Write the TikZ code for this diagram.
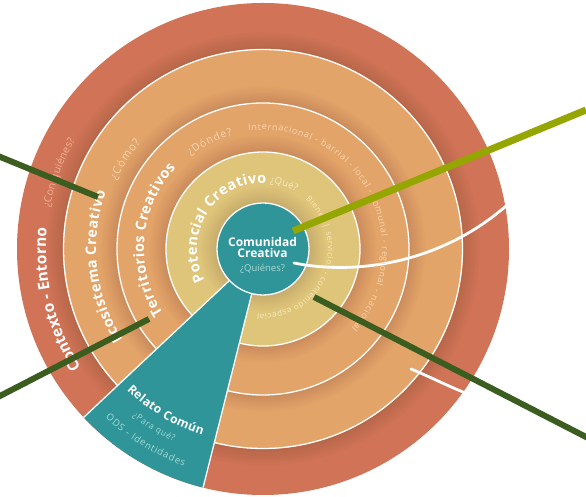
\documentclass[tikz,border=0pt]{standalone}
\usepackage{fontspec}
\setmainfont{Open Sans}
\usetikzlibrary{decorations.text}
\definecolor{redring}{HTML}{D07356}
\definecolor{orangering}{HTML}{E3A469}
\definecolor{yellowring}{HTML}{DFC579}
\definecolor{tealc}{HTML}{2F9599}
\definecolor{olive}{HTML}{96A600}
\definecolor{darkgreen}{HTML}{3B5E20}
\definecolor{redtxt}{HTML}{EFB196}
\definecolor{orangetxt}{HTML}{F8D5B0}
\definecolor{yellowtxt}{HTML}{F7EBC2}
\definecolor{tealtxt}{HTML}{A5DAD6}
\newcommand{\ringshadow}[1]{%
  \foreach \k in {1,...,12}{\fill[black,opacity=.009] (0,0) circle[radius=#1+\k*1.4];}}
\newcommand{\arctext}[7]{% start, end, radius, colour, size, font cmd, text
  \path[decorate,decoration={text along path,text align={fit to path},
    text={|\fontsize{#5}{#5}\selectfont#6\color{#4}|#7}}]
    (#1:#3) arc[start angle=#1,end angle=#2,radius=#3];}
\tikzset{
  ringdisc/.style={draw=white,line width=1.3pt},
  bigconn/.style={line width=7pt,draw=olive},
  darkconn/.style={line width=6pt,draw=darkgreen},
  sep/.style={draw=white,line width=2.8pt,line cap=round},
  titletxt/.style={text=white,font=\bfseries\fontsize{12}{12}\selectfont,inner sep=0pt}
}
\begin{document}
\begin{tikzpicture}[x=1pt,y=1pt]
\useasboundingbox (0,0) rectangle (586,497);
\begin{scope}[shift={(263,248)}]
  % rings
  \fill[redring] (0,0) circle[radius=246];
  \ringshadow{200}
  \fill[orangering] (0,0) circle[radius=200];
  \draw[ringdisc] (0,0) circle[radius=199.5];
  \ringshadow{146}
  \fill[orangering] (0,0) circle[radius=146];
  \draw[ringdisc] (0,0) circle[radius=146];
  \ringshadow{97}
  \fill[yellowring] (0,0) circle[radius=97];
  \draw[ringdisc] (0,0) circle[radius=97];
  \ringshadow{46}
  % wedge
  \fill[tealc] (223.2:246) arc[start angle=223.2,end angle=255.9,radius=246] -- (255.9:40) -- (223.2:40) -- cycle;
  \draw[white,line width=1.3pt] (223.2:246) -- (223.2:40);
  \draw[white,line width=1.3pt] (255.9:246) -- (255.9:40);
  % centre disc
  \fill[tealc] (0,0) circle[radius=46];
  \draw[ringdisc] (0,0) circle[radius=46];
  % separators
  \coordinate (sepA) at (31,-14);
  \coordinate (sepB) at (243,43);
  \draw[sep] (sepA) .. controls (90,-26) and (175,-16) .. (sepB);
  \coordinate (sepC) at (148,-120);
  \coordinate (sepD) at (200,-143);
  \draw[sep] (sepC) .. controls (165,-127) and (185,-137) .. (sepD);
  % ring texts
  \arctext{213}{175}{217}{white}{15.5}{\bfseries}{Contexto - Entorno}
  \arctext{169}{150}{217}{redtxt}{10.5}{}{¿Con quiénes?}
  \arctext{213}{160}{167}{white}{14.5}{\bfseries}{Ecosistema Creativo}
  \arctext{155}{139}{162}{orangetxt}{11}{}{¿Cómo?}
  \arctext{213}{137}{119}{white}{14.5}{\bfseries}{Territorios Creativos}
  \arctext{128}{105}{118}{orangetxt}{10.5}{}{¿Dónde?}
  \arctext{97}{-42}{119}{orangetxt}{9}{}{Internacional - barrial - local - comunal - regional - nacional}
  \arctext{208}{87}{66}{white}{14.5}{\bfseries}{Potencial Creativo}
  \arctext{84}{60}{66}{yellowtxt}{9.5}{}{¿Qué?}
  \arctext{49}{-95}{65}{yellowtxt}{8}{}{Bienes {\textbar} servicios - contenido especial}
  \arctext{226}{252}{196}{white}{12}{\bfseries}{Relato Común}
  \arctext{232}{245}{212}{tealtxt}{8.5}{}{¿Para qué?}
  \arctext{227}{250}{231}{tealtxt}{9.5}{}{ODS - Identidades}
\end{scope}
% centre text
\node[titletxt] (comunidad) at (262.5,255) {Comunidad};
\node[titletxt] (creativa) at (262.5,243.5) {Creativa};
\node[text=tealtxt,font=\fontsize{9.5}{10}\selectfont,inner sep=0pt] (quienes) at (262.5,228) {¿Quiénes?};
% connectors
\coordinate (oliveA) at (293,266);
\coordinate (oliveB) at (586,387);
\draw[bigconn] (oliveA) -- (oliveB);
\coordinate (dgA) at (98,300);
\coordinate (dgB) at (-2,341);
\draw[darkconn] (dgA) -- (dgB);
\coordinate (dgC) at (149,178);
\coordinate (dgD) at (-2,100);
\draw[darkconn] (dgC) -- (dgD);
\coordinate (dgE) at (314,200);
\coordinate (dgF) at (588,59);
\draw[darkconn] (dgE) -- (dgF);
\end{tikzpicture}
\end{document}
